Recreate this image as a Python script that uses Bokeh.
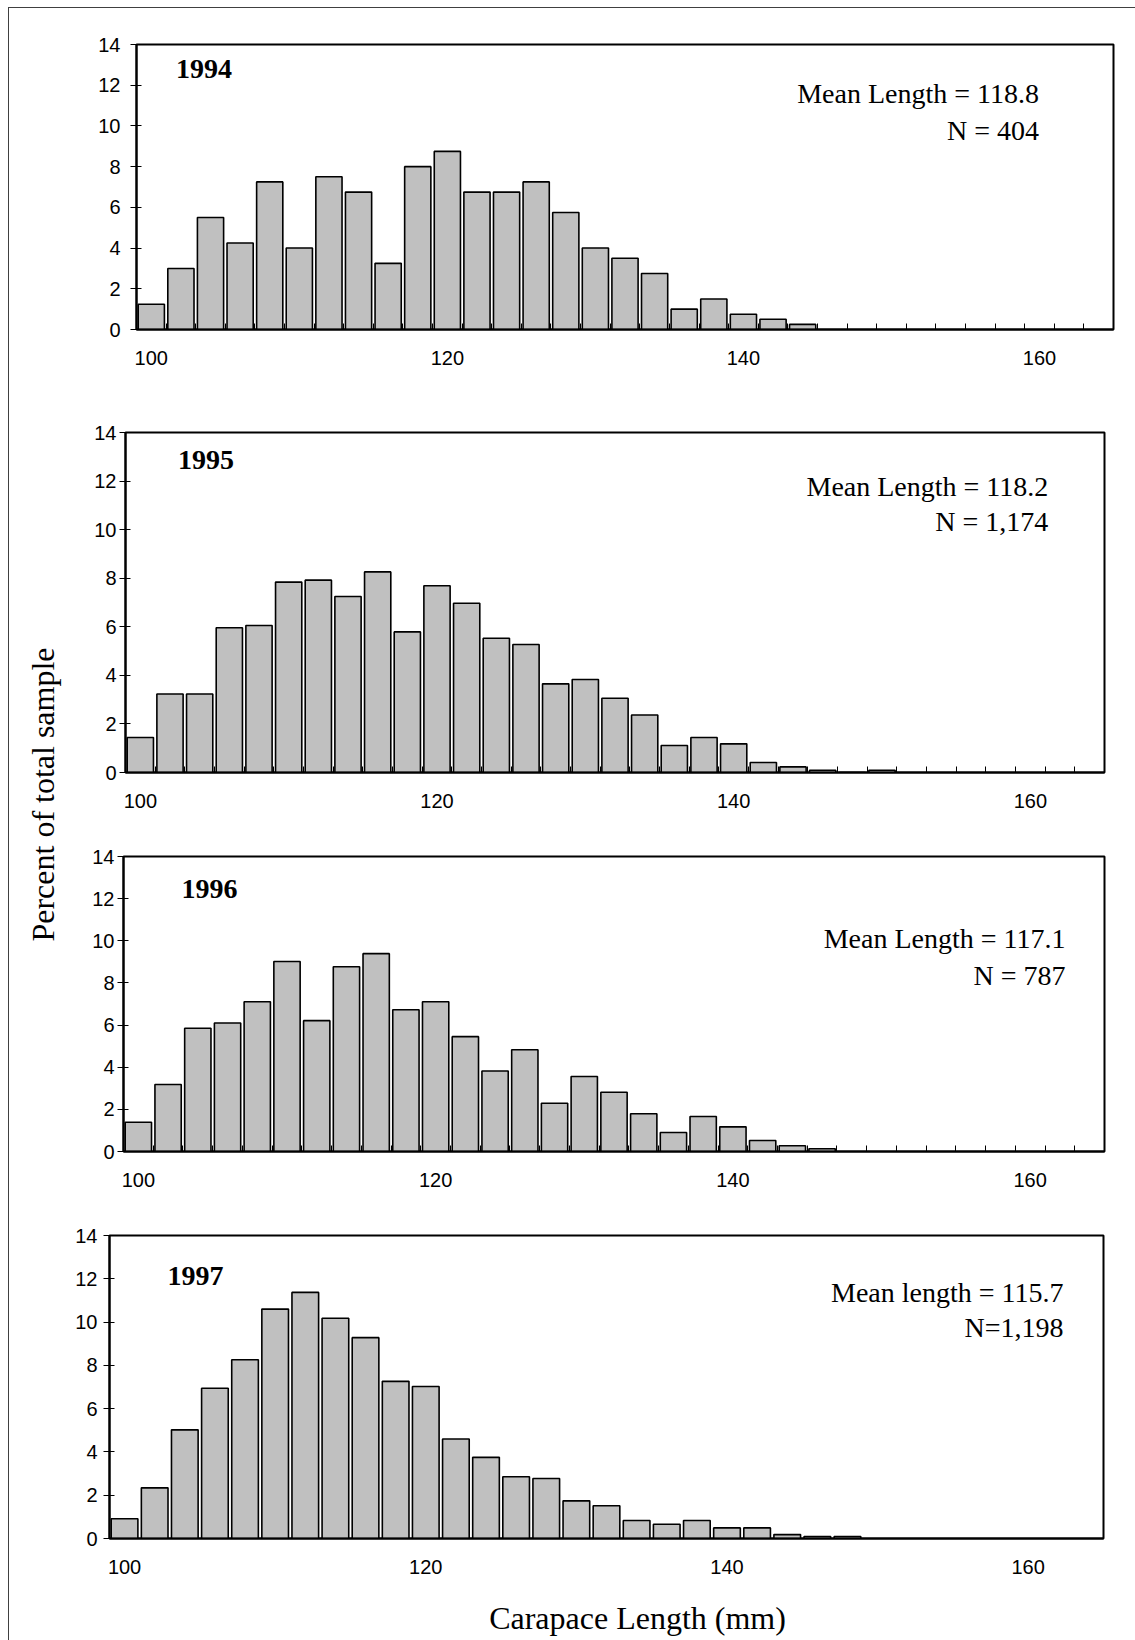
import math
from bokeh.plotting import figure
from bokeh.models import Range1d, FixedTicker, Label, Spacer
from bokeh.layouts import row, column
from bokeh.embed import file_html
from bokeh.resources import INLINE

# ---------------- data ----------------
lengths = list(range(100, 166, 2))          # 2-mm carapace-length classes
tick_labels = [100, 120, 140, 160]
y_ticks = [0, 2, 4, 6, 8, 10, 12, 14]

years = ["1994", "1995", "1996", "1997"]
mean_text = ["Mean Length = 118.8", "Mean Length = 118.2",
             "Mean Length = 117.1", "Mean length = 115.7"]
n_text = ["N = 404", "N = 1,174", "N = 787", "N=1,198"]

pct_1994 = [1.24, 3.0, 5.5, 4.25, 7.25, 4.0, 7.5, 6.75, 3.25, 8.0, 8.75, 6.75,
            6.75, 7.25, 5.75, 4.0, 3.5, 2.75, 1.0, 1.5, 0.75, 0.5, 0.25]
pct_1995 = [1.44, 3.23, 3.23, 5.96, 6.05, 7.84, 7.92, 7.25, 8.26, 5.79, 7.69, 6.97,
            5.53, 5.27, 3.65, 3.83, 3.06, 2.37, 1.11, 1.44, 1.18, 0.41, 0.23, 0.09,
            0.0, 0.09]
pct_1996 = [1.39, 3.18, 5.85, 6.10, 7.11, 9.02, 6.21, 8.77, 9.39, 6.73, 7.11, 5.45,
            3.82, 4.83, 2.29, 3.56, 2.81, 1.79, 0.90, 1.66, 1.17, 0.52, 0.27, 0.13]
pct_1997 = [0.91, 2.34, 5.02, 6.94, 8.26, 10.6, 11.37, 10.18, 9.28, 7.26, 7.02, 4.6,
            3.75, 2.85, 2.77, 1.74, 1.51, 0.83, 0.66, 0.83, 0.49, 0.49, 0.18, 0.09,
            0.09]
series = [pct_1994, pct_1995, pct_1996, pct_1997]

# ---------------- layout (pixels) ----------------
W, H = 1135, 1640
STRIP = 70                       # left strip holding the shared y label
BL, BR = 39, 22                  # common left / right borders of the panels
fig_y0 = [0, 390, 815, 1195]
fig_h = [390, 425, 380, 400]
XL_H = 45                        # bottom strip with the x title
frames = [  # left, right, top, bottom (absolute page pixels)
    (134, 1113, 44, 329),
    (125, 1104, 432, 772),
    (123, 1104, 856, 1151),
    (109, 1103, 1235, 1538),
]
TXT_SHIFT = 10.5                 # baseline correction of the svg text
year_pos = [(173.5, 79.3), (177.5, 470), (181, 899.3), (167, 1286)]
mean_pos = [(1038.3, 103.3, 140), (1047.8, 496, 531), (1065, 948.3, 985), (1063, 1302.7, 1337.3)]
ystandoff = [10, 3, 3, 6]
SERIF = "Liberation Serif"
SANS = "Liberation Sans"
TICK_FS = "20px"

xmin, xmax = lengths[0] - 1, lengths[-1] + 1


def to_data(px, py, fr):
    l, r, t, b = fr
    x = xmin + (px - l) / (r - l) * (xmax - xmin)
    y = (b - (py - TXT_SHIFT)) / (b - t) * 14.0
    return x, y


rows = []
for i, vals in enumerate(series):
    l, r, t, b = frames[i]
    y0 = fig_y0[i]
    h = fig_h[i]
    dx = l - STRIP - BL
    fw = r + BR - STRIP - dx
    p = figure(width=fw, height=h,
               x_range=Range1d(xmin, xmax), y_range=Range1d(0, 14),
               min_border_left=BL, min_border_right=BR,
               min_border_top=t - y0, min_border_bottom=y0 + h - b,
               toolbar_location=None, output_backend="svg",
               border_fill_color=None, background_fill_color=None)
    p.grid.visible = False
    p.outline_line_color = "black"
    p.outline_line_width = 2
    p.outline_line_alpha = 1.0

    p.vbar(x=lengths[:len(vals)], top=vals, bottom=0, width=1.77,
           fill_color="#C0C0C0", line_color="black", line_width=1.6)

    minor = [v + 1 for v in lengths[:-1]] if i < 3 else []
    xa = p.xaxis[0]
    xa.ticker = FixedTicker(ticks=tick_labels, minor_ticks=minor)
    xa.major_tick_in = 0
    xa.major_tick_out = 0
    xa.minor_tick_in = 6
    xa.minor_tick_out = 0
    xa.minor_tick_line_color = "black"
    xa.minor_tick_line_width = 1
    xa.axis_line_color = "black"
    xa.axis_line_width = 2
    xa.major_label_text_font = SANS
    xa.major_label_text_font_size = TICK_FS
    xa.major_label_text_color = "black"
    xa.major_label_standoff = 21

    ya = p.yaxis[0]
    ya.ticker = FixedTicker(ticks=y_ticks)
    ya.major_tick_in = 5
    ya.major_tick_out = 6
    ya.major_tick_line_color = "black"
    ya.major_tick_line_width = 1
    ya.minor_tick_line_color = None
    ya.axis_line_color = "black"
    ya.axis_line_width = 2
    ya.major_label_text_font = SANS
    ya.major_label_text_font_size = TICK_FS
    ya.major_label_text_color = "black"
    ya.major_label_standoff = ystandoff[i]

    yx, yy = to_data(year_pos[i][0], year_pos[i][1], frames[i])
    p.add_layout(Label(x=yx, y=yy, text=years[i], text_font=SERIF,
                       text_font_size="28px", text_font_style="bold",
                       text_color="black", text_align="left",
                       text_baseline="alphabetic"))
    mx, my1 = to_data(mean_pos[i][0], mean_pos[i][1], frames[i])
    _, my2 = to_data(mean_pos[i][0], mean_pos[i][2], frames[i])
    p.add_layout(Label(x=mx, y=my1, text=mean_text[i], text_font=SERIF,
                       text_font_size="28px", text_color="black",
                       text_align="right", text_baseline="alphabetic"))
    p.add_layout(Label(x=mx, y=my2, text=n_text[i], text_font=SERIF,
                       text_font_size="28px", text_color="black",
                       text_align="right", text_baseline="alphabetic"))
    rows.append(row(Spacer(width=dx, height=h), p) if dx > 0 else p)

# bottom strip with the x-axis title (absolute pixel coordinates)
xfig = figure(width=W - STRIP, height=XL_H,
              x_range=Range1d(STRIP + BL, W - BR), y_range=Range1d(H, H - XL_H),
              x_axis_type=None, y_axis_type=None,
              min_border_left=BL, min_border_right=BR, min_border_top=0, min_border_bottom=0,
              toolbar_location=None, output_backend="svg",
              outline_line_color=None, border_fill_color=None,
              background_fill_color=None)
xfig.add_layout(Label(x=637, y=1628 - 11, text="Carapace Length (mm)",
                      text_font=SERIF, text_font_size="32px", text_color="black",
                      text_align="center", text_baseline="alphabetic"))
rows.append(xfig)

# left strip with the shared y-axis title
yfig = figure(width=STRIP, height=H, x_range=Range1d(0, STRIP), y_range=Range1d(H, 0),
              x_axis_type=None, y_axis_type=None, min_border=0,
              toolbar_location=None, output_backend="svg",
              outline_line_color=None, border_fill_color=None,
              background_fill_color=None)
yfig.add_layout(Label(x=53 - 11, y=794, text="Percent of total sample", angle=math.pi / 2,
                      text_font=SERIF, text_font_size="32px", text_color="black",
                      text_align="center", text_baseline="alphabetic"))

frame_lines = ("linear-gradient(#404040,#404040) 8px 7px / 1px 1633px no-repeat, "
               "linear-gradient(#404040,#404040) 8px 7px / 1127px 1px no-repeat, white")
layout = row(yfig, column(*rows), styles={"background": frame_lines})

open("out.html", "w").write(file_html(layout, INLINE))
